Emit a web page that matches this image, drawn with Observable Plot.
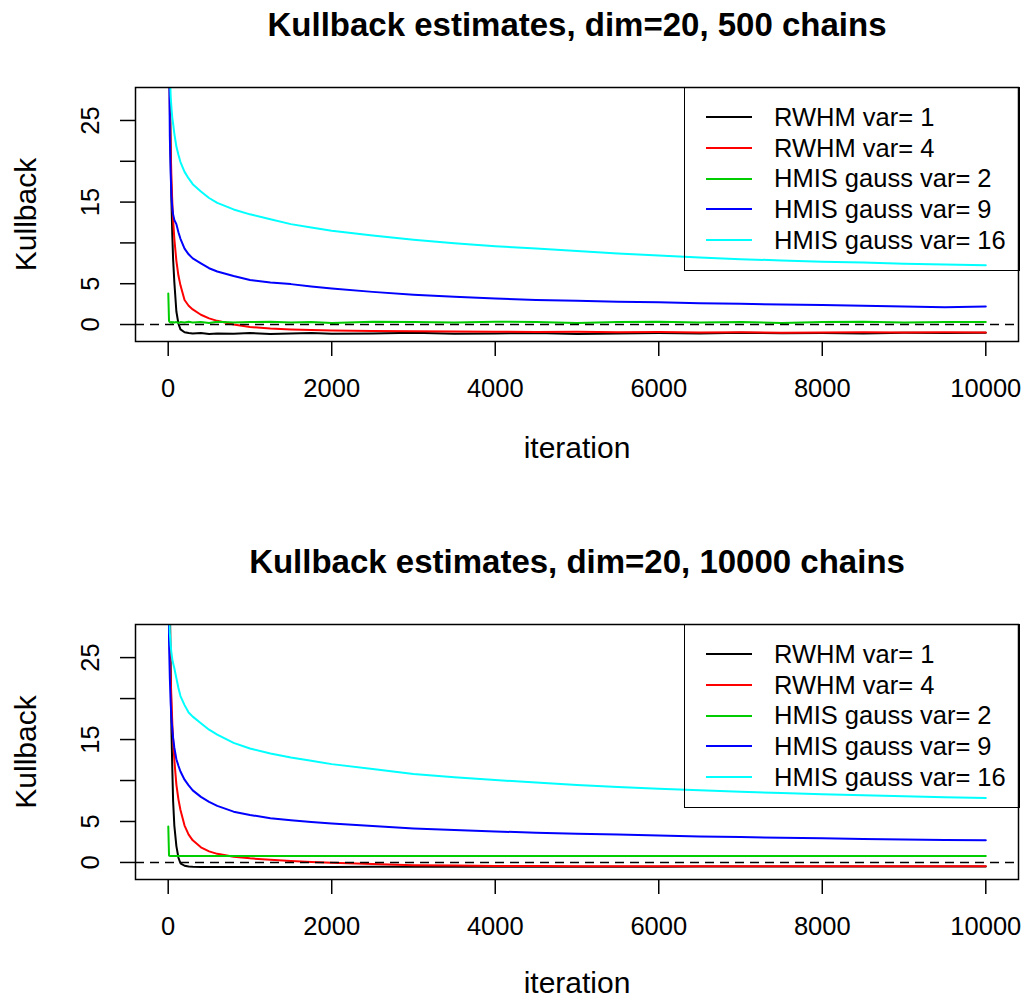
<!DOCTYPE html>
<html>
<head>
<meta charset="utf-8">
<script src="https://cdn.jsdelivr.net/npm/d3@7"></script>
<script src="https://cdn.jsdelivr.net/npm/@observablehq/plot@0.6"></script>
<style>
  body { margin: 0; background: #fff; font-family: "Liberation Sans", Arial, sans-serif; }
  .panel { position: relative; width: 1026px; }
  .panel svg { display: block; }
  .legend { position: absolute; left: 684px; width: 336px; height: 184px; border: 1.5px solid #000; box-sizing: border-box; padding-top: 14px; }
  .legend .row { display: flex; align-items: center; height: 30.7px; font-size: 25.5px; color: #000; white-space: nowrap; }
  .legend .sw { display: inline-block; width: 46px; height: 2px; margin-left: 21px; margin-right: 22px; }
</style>
</head>
<body>
<div id="chart"></div>
<script>
// ---- data ----
const iterations = [1, 10, 20, 30, 40, 50, 60, 75, 100, 125, 150, 200, 250, 300, 400, 500, 600, 800, 1000, 1250, 1500, 1750, 2000, 2500, 3000, 3500, 4000, 4500, 5000, 5500, 6000, 6500, 7000, 7500, 8000, 8500, 9000, 9500, 10000];
const seriesNames = ["RWHM var= 1", "RWHM var= 4", "HMIS gauss var= 2", "HMIS gauss var= 9", "HMIS gauss var= 16"];
const seriesColors = ["#000000", "#FF0000", "#00CD00", "#0000FF", "#00FFFF"];
const titles = ["Kullback estimates, dim=20, 500 chains", "Kullback estimates, dim=20, 10000 chains"];
const xTicks = [0, 2000, 4000, 6000, 8000, 10000];
const yTicks = [0, 5, 10, 15, 20, 25];
const yTickLabels = ["0", "5", "", "15", "", "25"];

// panel 1: 500 chains
const p1_rwhm1 = [80, 45, 30, 21, 15, 11, 8, 5.2, 1.6, 0.1, -0.6, -0.95, -1.05, -1.1, -1.05, -1.15, -1.1, -1.12, -1.05, -1.15, -1.1, -1.05, -1.12, -1.1, -1.0, -1.12, -1.1, -1.05, -1.15, -1.1, -1.05, -1.1, -1.0, -1.08, -1.05, -1.1, -1.02, -1.05, -1.0];
const p1_rwhm4 = [60, 34, 26.5, 21.5, 17.8, 15, 12.8, 10.5, 7.8, 6, 4.8, 3.0, 2.3, 1.85, 1.2, 0.75, 0.45, 0.0, -0.3, -0.48, -0.6, -0.68, -0.74, -0.78, -0.82, -0.86, -0.88, -0.92, -0.9, -0.95, -0.93, -0.98, -0.95, -1.0, -0.97, -0.95, -0.98, -0.95, -0.97];
const p1_hmis2 = [3.8, 0.45, 0.3, 0.25, 0.3, 0.2, 0.3, 0.25, 0.3, 0.2, 0.3, 0.25, 0.35, 0.25, 0.3, 0.2, 0.35, 0.25, 0.3, 0.35, 0.25, 0.3, 0.2, 0.35, 0.3, 0.25, 0.35, 0.3, 0.2, 0.3, 0.35, 0.25, 0.3, 0.2, 0.3, 0.35, 0.25, 0.3, 0.3];
const p1_hmis9 = [80, 35, 23, 18.5, 15.7, 14.3, 13.5, 12.8, 12.3, 11.3, 10.5, 9.3, 8.6, 8.1, 7.5, 6.9, 6.5, 5.95, 5.45, 5.15, 4.95, 4.65, 4.4, 4.0, 3.65, 3.4, 3.2, 3.0, 2.9, 2.8, 2.72, 2.62, 2.55, 2.45, 2.4, 2.3, 2.2, 2.12, 2.2];
const p1_hmis16 = [80, 40, 31, 28, 26.5, 25.3, 24.6, 23.4, 21.8, 20.8, 19.9, 18.7, 17.9, 17.2, 16.3, 15.5, 14.9, 14.1, 13.5, 12.9, 12.3, 11.9, 11.5, 10.9, 10.4, 9.95, 9.6, 9.3, 9.0, 8.7, 8.45, 8.2, 8.0, 7.85, 7.7, 7.6, 7.45, 7.35, 7.25];

// panel 2: 10000 chains
const p2_rwhm1 = [80, 45, 32, 24, 16, 11.5, 7.5, 4.5, 2.0, 0.6, -0.1, -0.4, -0.5, -0.53, -0.55, -0.55, -0.55, -0.55, -0.55, -0.55, -0.54, -0.54, -0.54, -0.53, -0.53, -0.52, -0.52, -0.52, -0.51, -0.51, -0.51, -0.5, -0.5, -0.5, -0.5, -0.5, -0.5, -0.5, -0.5];
const p2_rwhm4 = [60, 33, 26, 22.5, 19.8, 17.0, 15, 12.5, 9.5, 7.7, 6.4, 4.5, 3.4, 2.7, 1.85, 1.35, 1.05, 0.7, 0.5, 0.32, 0.18, 0.05, -0.05, -0.2, -0.33, -0.38, -0.42, -0.44, -0.45, -0.46, -0.46, -0.47, -0.47, -0.47, -0.47, -0.47, -0.47, -0.47, -0.47];
const p2_hmis2 = [4.4, 0.85, 0.8, 0.79, 0.79, 0.78, 0.78, 0.78, 0.78, 0.78, 0.78, 0.78, 0.78, 0.78, 0.78, 0.78, 0.78, 0.78, 0.78, 0.8, 0.78, 0.78, 0.78, 0.78, 0.78, 0.78, 0.78, 0.78, 0.78, 0.78, 0.78, 0.78, 0.78, 0.78, 0.78, 0.78, 0.78, 0.78, 0.78];
const p2_hmis9 = [60, 27, 22.5, 19.5, 17.5, 16.3, 15.2, 14, 12.6, 11.8, 11.1, 10.1, 9.4, 8.8, 8.0, 7.4, 6.9, 6.2, 5.8, 5.4, 5.15, 4.95, 4.75, 4.45, 4.15, 3.95, 3.78, 3.64, 3.5, 3.4, 3.28, 3.18, 3.1, 3.0, 2.94, 2.87, 2.8, 2.75, 2.7];
const p2_hmis16 = [80, 33, 28, 26.5, 25.5, 24.8, 24.3, 23.7, 22.5, 21.3, 20.3, 19.2, 18.3, 17.8, 17.0, 16.2, 15.6, 14.6, 13.9, 13.3, 12.8, 12.4, 12.0, 11.4, 10.8, 10.4, 10.05, 9.75, 9.45, 9.2, 9.0, 8.8, 8.62, 8.47, 8.33, 8.2, 8.08, 7.97, 7.88];

const panels = [
  { title: titles[0], series: [p1_rwhm1, p1_rwhm4, p1_hmis2, p1_hmis9, p1_hmis16], height: 537, marginBottom: 196, labelDy: 107 },
  { title: titles[1], series: [p2_rwhm1, p2_rwhm4, p2_hmis2, p2_hmis9, p2_hmis16], height: 463, marginBottom: 121, labelDy: 104 }
];

const chart = document.getElementById("chart");

for (const p of panels) {
  const rows = [];
  p.series.forEach((vals, s) => vals.forEach((v, i) => rows.push({ iteration: iterations[i], value: v, series: seriesNames[s] })));

  const svg = Plot.plot({
    width: 1026,
    height: p.height,
    marginLeft: 135,
    marginRight: 8,
    marginTop: 87,
    marginBottom: p.marginBottom,
    style: { fontFamily: "Liberation Sans, Arial, sans-serif", fontSize: "25.5px", background: "white", color: "black", overflow: "visible" },
    x: { domain: [-400, 10400], axis: null },
    y: { domain: [-2.08, 29.04], axis: null },
    color: { domain: seriesNames, range: seriesColors },
    marks: [
      Plot.lineY(rows, { x: "iteration", y: "value", z: "series", stroke: "series", strokeWidth: 2, clip: true }),
      Plot.ruleY([0], { stroke: "black", strokeDasharray: "9,6", strokeWidth: 1.5 }),
      Plot.frame({ stroke: "black", strokeWidth: 1.5 }),
      Plot.axisX(xTicks, { tickSize: 15, tickPadding: 22, tickFormat: (d) => String(d), label: null, strokeWidth: 1.5 }),
      Plot.axisY(yTicks, { tickSize: 15, tickFormat: () => "", label: null, strokeWidth: 1.5 }),
      Plot.text(yTicks, { y: (d) => d, text: (d, i) => yTickLabels[i], frameAnchor: "left", textAnchor: "middle", lineAnchor: "middle", rotate: -90, dx: -45 }),
      Plot.text([p.title], { text: (d) => d, frameAnchor: "top", textAnchor: "middle", lineAnchor: "middle", dy: -62, fontWeight: "bold", fontSize: 33 }),
      Plot.text(["iteration"], { text: (d) => d, frameAnchor: "bottom", textAnchor: "middle", lineAnchor: "middle", dy: p.labelDy, fontSize: 30 }),
      Plot.text(["Kullback"], { text: (d) => d, frameAnchor: "left", textAnchor: "middle", lineAnchor: "middle", dx: -109, rotate: -90, fontSize: 30 })
    ]
  });

  const wrap = document.createElement("div");
  wrap.className = "panel";
  wrap.appendChild(svg);

  const legend = document.createElement("div");
  legend.className = "legend";
  legend.style.top = "87px";
  seriesNames.forEach((name, i) => {
    const row = document.createElement("div");
    row.className = "row";
    const sw = document.createElement("span");
    sw.className = "sw";
    sw.style.background = seriesColors[i];
    const label = document.createElement("span");
    label.textContent = name;
    row.appendChild(sw);
    row.appendChild(label);
    legend.appendChild(row);
  });
  wrap.appendChild(legend);
  chart.appendChild(wrap);
}
</script>
</body>
</html>
